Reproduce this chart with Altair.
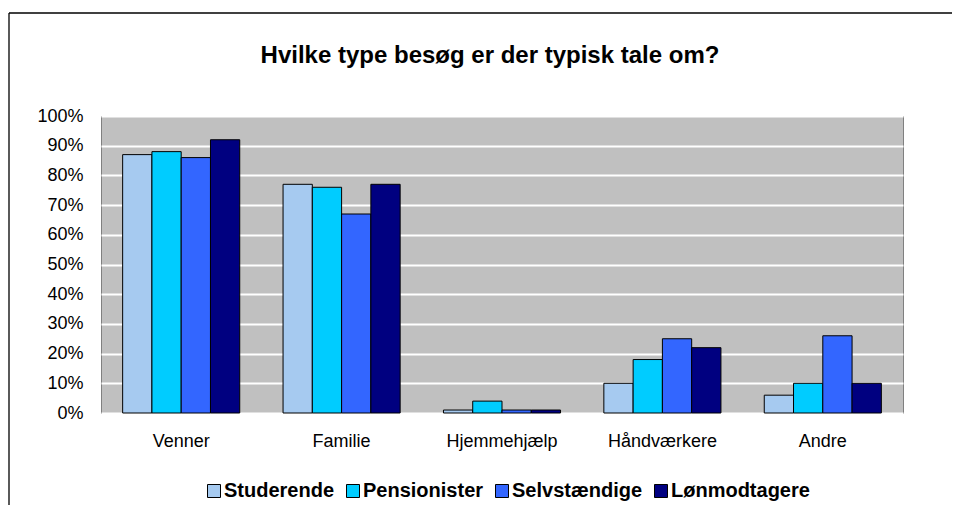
import altair as alt
import pandas as pd

categories = ["Venner", "Familie", "Hjemmehjælp", "Håndværkere", "Andre"]
series = ["Studerende", "Pensionister", "Selvstændige", "Lønmodtagere"]
studerende = [0.87, 0.77, 0.01, 0.10, 0.06]
pensionister = [0.88, 0.76, 0.04, 0.18, 0.10]
selvstaendige = [0.86, 0.67, 0.01, 0.25, 0.26]
loenmodtagere = [0.92, 0.77, 0.01, 0.22, 0.10]
colors = ["#A6CAF0", "#00CCFF", "#3366FF", "#000080"]
y_ticks = [i / 10 for i in range(11)]

rows = []
for s, vals in zip(series, [studerende, pensionister, selvstaendige, loenmodtagere]):
    for c, v in zip(categories, vals):
        rows.append({"Kategori": c, "Gruppe": s, "Andel": v})
df = pd.DataFrame(rows)

FONT = "Liberation Sans"

bars = alt.Chart(df).mark_bar(stroke="black", strokeWidth=1).encode(
    x=alt.X("Kategori:N", sort=categories, title=None,
            scale=alt.Scale(paddingInner=0.27, paddingOuter=0.135),
            axis=alt.Axis(labelAngle=0, labelPadding=19, ticks=False, domain=False,
                          labelFontSize=18, labelFont=FONT, labelColor="black")),
    xOffset=alt.XOffset("Gruppe:N", sort=series, scale=alt.Scale(paddingInner=0, paddingOuter=0)),
    y=alt.Y("Andel:Q", title=None, scale=alt.Scale(domain=[0, 1], nice=False),
            axis=alt.Axis(values=y_ticks, format=".0%", labelPadding=18, ticks=False, domain=False,
                          grid=True, gridColor="white", gridWidth=2, gridOpacity=1,
                          labelFontSize=18, labelFont=FONT, labelColor="black")),
    color=alt.Color("Gruppe:N", sort=series, scale=alt.Scale(domain=series, range=colors),
                    legend=alt.Legend(title=None, orient="none", direction="horizontal",
                                      legendX=103, legendY=365,
                                      symbolType="square", symbolSize=169,
                                      symbolStrokeColor="black", symbolStrokeWidth=1,
                                      symbolOpacity=1,
                                      labelFont=FONT, labelFontSize=20, labelFontWeight="bold",
                                      labelColor="black", labelOffset=0, columnPadding=8)),
)

frame_data = alt.Data(values=[{"a": 1}])
frame_left = alt.Chart(frame_data).mark_rule(color="black", strokeWidth=1.3).encode(
    x=alt.value(-92), y=alt.value(-103), y2=alt.value(430)
)
frame_top = alt.Chart(frame_data).mark_rule(color="black", strokeWidth=1.3).encode(
    x=alt.value(-92), x2=alt.value(1000), y=alt.value(-103)
)

chart = alt.layer(bars, frame_left, frame_top).properties(
    width=802, height=297,
    title=alt.TitleParams("Hvilke type besøg er der typisk tale om?", font=FONT, fontSize=24,
                          fontWeight="bold", color="black", anchor="middle", dx=-12, offset=-56),
    autosize=alt.AutoSizeParams(type="none"),
    padding={"left": 93, "top": 108, "right": 49, "bottom": 92},
).configure(
    background="white"
).configure_view(
    fill="#C0C0C0", stroke="#808080", strokeWidth=1
)

chart.save("out.html", embed_options={"renderer": "svg", "actions": False})
